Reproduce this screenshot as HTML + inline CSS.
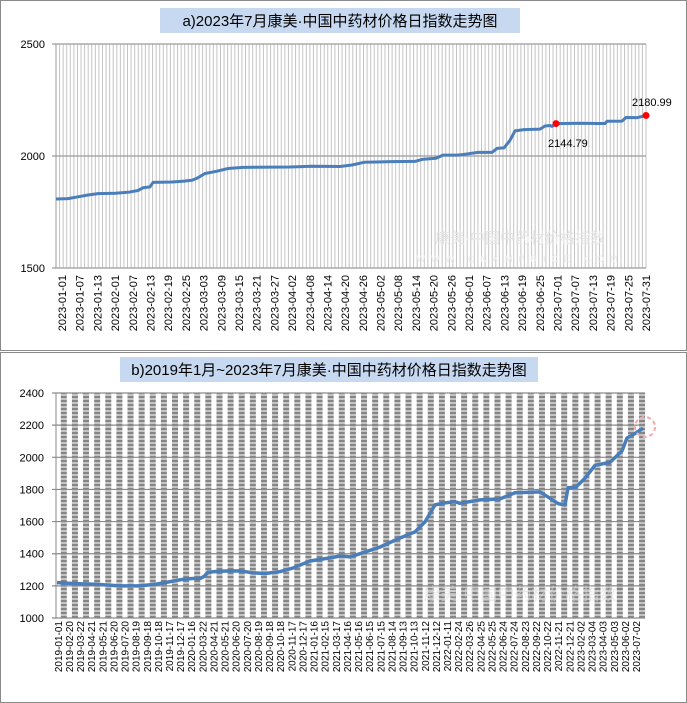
<!DOCTYPE html>
<html><head><meta charset="utf-8"><style>
html,body{margin:0;padding:0;background:#fff;}
svg{display:block;font-family:"Liberation Sans","Noto Sans CJK SC",sans-serif;}
</style></head><body>
<svg id="s" width="687" height="703" xmlns="http://www.w3.org/2000/svg">
<defs>
<pattern id="dash" width="6" height="4" patternUnits="userSpaceOnUse">
<rect width="6" height="2" fill="#858585"/><rect y="2" width="6" height="2" fill="#c4c4c4"/>
</pattern>
</defs>
<rect x="0.5" y="0.5" width="686" height="350" fill="#fff" stroke="#8a8a8a"/>
<rect x="0.5" y="352.5" width="686" height="350" fill="#fff" stroke="#8a8a8a"/>
<rect x="160" y="8" width="360" height="25" fill="#c6d9f1"/>
<text x="340" y="26" font-size="15" text-anchor="middle" fill="#000">a)2023年7月康美·中国中药材价格日指数走势图</text>
<rect x="120" y="357" width="418" height="25" fill="#c6d9f1"/>
<text x="329" y="375" font-size="15" text-anchor="middle" fill="#000">b)2019年1月~2023年7月康美·中国中药材价格日指数走势图</text>
<g id="ga"></g>
<g id="gb"></g>
</svg>
<script>
var NS="http://www.w3.org/2000/svg";
function el(p,t,a,txt){var e=document.createElementNS(NS,t);for(var k in a)e.setAttribute(k,a[k]);if(txt!==undefined)e.textContent=txt;p.appendChild(e);return e;}
var ga=document.getElementById('ga'),gb=document.getElementById('gb');
var L=56,R=646,T=44,B=268;
var la=["01-01","01-07","01-13","02-01","02-07","02-13","02-19","02-25","03-03","03-09","03-15","03-21","03-27","04-02","04-08","04-14","04-20","04-26","05-02","05-08","05-14","05-20","05-26","06-01","06-07","06-13","06-19","06-25","07-01","07-07","07-13","07-19","07-25","07-31"];
var step=(R-L)/(33*5);
for(var i=0;i<=165;i++){var x=L+i*step;el(ga,'line',{x1:x,x2:x,y1:T,y2:B,stroke:'#c4c4c4','stroke-width':1});}
[44,156,268].forEach(function(y){el(ga,'line',{x1:L-4,x2:R,y1:y,y2:y,stroke:'#9a9a9a','stroke-width':1.3});});
el(ga,'line',{x1:L,x2:L,y1:T,y2:B,stroke:'#9a9a9a'});
[["2500",44],["2000",156],["1500",268]].forEach(function(d){el(ga,'text',{x:45,y:d[1]+4,'font-size':11,'text-anchor':'end'},d[0]);});
el(ga,'text',{x:520,y:243,'font-size':15,fill:'#e6e6e6','text-anchor':'middle'},'康美·中国中药材价格指数');
el(ga,'text',{x:520,y:262,'font-size':9,fill:'#ececec','text-anchor':'middle','letter-spacing':6},'WWW.CNKMPRICE.COM');
for(var i=0;i<34;i++){var x=L+6+i*(R-L-6)/33;el(ga,'text',{transform:'translate('+(x+4)+',275) rotate(-90)','font-size':11,'text-anchor':'end'},'2023-'+la[i]);}
function ya(v){return 156-(v-2000)*0.224;}
var P=[[56,1808],[68,1810],[78,1818],[88,1826],[98,1832],[115,1834],[128,1838],[138,1846],[143,1858],[150,1862],[153,1882],[172,1884],[184,1888],[192,1892],[198,1903],[205,1922],[217,1932],[228,1944],[243,1949],[290,1951],[312,1954],[340,1953],[352,1960],[364,1972],[392,1975],[415,1976],[422,1985],[436,1990],[443,2004],[458,2004],[468,2010],[478,2016],[492,2016],[497,2034],[504,2036],[510,2070],[515,2112],[524,2118],[540,2120],[545,2134],[550,2136],[552,2132],[556,2144.79],[580,2146],[598,2145],[605,2145],[607,2155],[622,2156],[626,2172],[637,2171],[646,2180.99]];
el(ga,'polyline',{points:P.map(function(p){return p[0]+','+ya(p[1]).toFixed(1);}).join(' '),fill:'none',stroke:'#4a7ebb','stroke-width':3,'stroke-linejoin':'round'});
el(ga,'circle',{cx:556,cy:ya(2144.79),r:3.5,fill:'#f00'});
el(ga,'circle',{cx:646,cy:ya(2180.99),r:3.5,fill:'#f00'});
el(ga,'text',{x:548,y:147,'font-size':11},'2144.79');
el(ga,'text',{x:632,y:106,'font-size':11},'2180.99');
var L2=56,R2=645,T2=393,B2=618;
var lb=["2019-01-01","2019-02-20","2019-03-22","2019-04-21","2019-05-21","2019-06-20","2019-07-20","2019-08-19","2019-09-18","2019-10-18","2019-11-17","2019-12-17","2020-01-16","2020-03-22","2020-04-21","2020-05-21","2020-06-20","2020-07-20","2020-08-19","2020-09-18","2020-10-18","2020-11-17","2020-12-17","2021-01-16","2021-02-15","2021-03-17","2021-04-16","2021-05-16","2021-06-15","2021-07-15","2021-08-14","2021-09-13","2021-10-13","2021-11-12","2021-12-12","2022-01-11","2022-02-24","2022-03-26","2022-04-25","2022-05-25","2022-06-24","2022-07-24","2022-08-23","2022-09-22","2022-10-22","2022-11-21","2022-12-21","2023-02-02","2023-03-04","2023-04-03","2023-05-03","2023-06-02","2023-07-02"];
var s2=11.12;
for(var i=0;i<53;i++){var x=58+i*s2+2.8;el(gb,'rect',{x:x,y:T2,width:6,height:B2-T2,fill:'url(#dash)'});}
for(var v=1000;v<=2400;v+=200){var y=618-(v-1000)*0.1607;el(gb,'line',{x1:L2-4,x2:R2,y1:y,y2:y,stroke:'#8a8a8a','stroke-width':1.2});el(gb,'text',{x:44,y:y+4,'font-size':11,'text-anchor':'end'},String(v));}
el(gb,'line',{x1:L2,x2:L2,y1:T2,y2:B2,stroke:'#8a8a8a'});
el(gb,'text',{x:520,y:600,'font-size':17,fill:'#dcdcdc','fill-opacity':0.6,'text-anchor':'middle'},'康美·中国中药材价格指数');
for(var i=0;i<53;i++){var x=58+i*s2;el(gb,'text',{transform:'translate('+(x+3.8)+',621) rotate(-90)','font-size':10,'text-anchor':'end'},lb[i]);}
function yb(v){return 618-(v-1000)*0.1607;}
var Q=[[57,1220],[75,1214],[95,1210],[120,1200],[140,1200],[155,1210],[165,1220],[180,1238],[192,1246],[200,1246],[204,1258],[208,1285],[220,1292],[240,1293],[252,1282],[265,1277],[280,1289],[293,1311],[310,1355],[330,1374],[340,1386],[350,1380],[365,1410],[380,1442],[400,1498],[415,1536],[425,1598],[435,1704],[445,1716],[455,1723],[460,1714],[480,1735],[500,1741],[515,1779],[530,1783],[540,1785],[550,1745],[558,1712],[565,1704],[568,1810],[576,1815],[585,1870],[595,1950],[610,1968],[622,2040],[627,2120],[635,2148],[643,2181]];
el(gb,'polyline',{points:Q.map(function(p){return p[0]+','+yb(p[1]).toFixed(1);}).join(' '),fill:'none',stroke:'#4a7ebb','stroke-width':3.5,'stroke-linejoin':'round'});
el(gb,'circle',{cx:645,cy:427,r:10,fill:'none',stroke:'#f8a8a8','stroke-width':2,'stroke-dasharray':'4,3'});
</script>
</body></html>
